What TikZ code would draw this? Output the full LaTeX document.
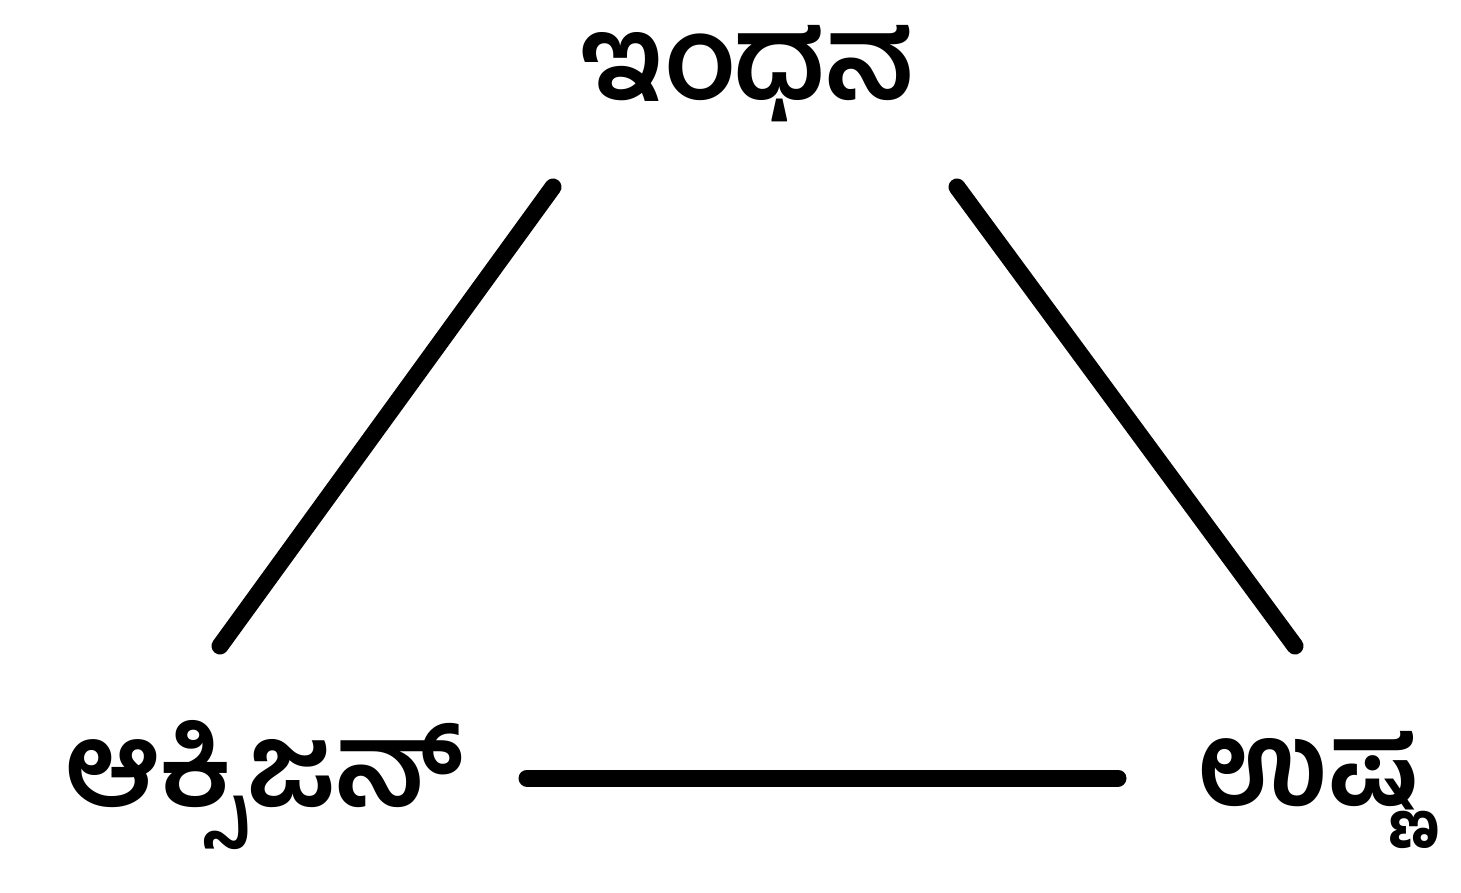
\documentclass[tikz,border=0pt]{standalone}
\usepackage{fontspec}
\newfontfamily\kan[Script=Kannada]{Hind Mysuru}
\begin{document}
\begin{tikzpicture}[x=0.5pt,y=-0.5pt,
  lbl/.style={font=\kan\bfseries\fontsize{58}{62}\selectfont, inner sep=0pt},
  edge/.style={line width=8.5pt, line cap=round}]
\useasboundingbox (0,0) rectangle (1461,893);
\node[lbl] (fuel) at (747,74) {ಇಂಧನ};
\node[lbl] (oxy) at (265,785) {ಆಕ್ಸಿಜನ್};
\node[lbl] (heat) at (1308,790) {ಉಷ್ಣ};
\coordinate (l1) at (553,187);
\coordinate (l2) at (220,646);
\coordinate (r1) at (957,187);
\coordinate (r2) at (1295,646);
\coordinate (b1) at (527,778);
\coordinate (b2) at (1118,778);
\draw[edge] (l1) -- (l2);
\draw[edge] (r1) -- (r2);
\draw[edge] (b1) -- (b2);
\end{tikzpicture}
\end{document}
